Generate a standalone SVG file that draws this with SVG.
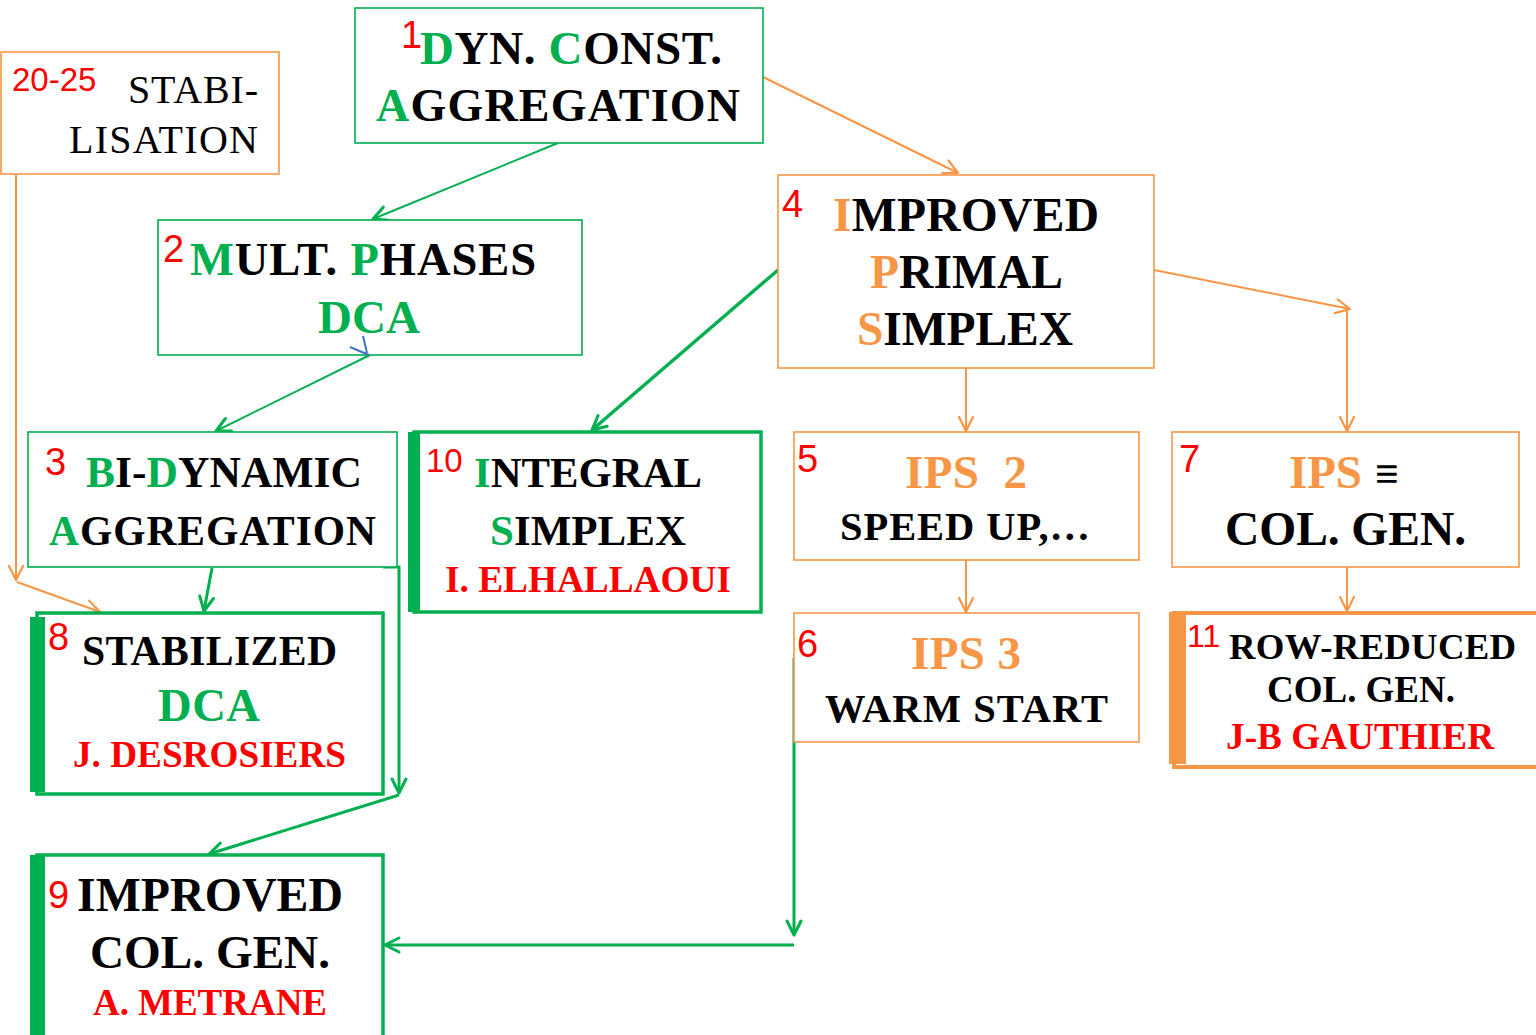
<svg xmlns="http://www.w3.org/2000/svg" width="1536" height="1035" viewBox="0 0 1536 1035">
  <style>
    .t { font-family: "Liberation Serif", "Times New Roman", serif; font-weight: bold; fill: #000; }
    .reg { font-weight: normal; }
    .n { font-family: "Liberation Sans", Arial, sans-serif; fill: #ff0000; }
    .g { fill: #00b050; }
    .o { fill: #f79646; }
    .r { fill: #ff0000; }
    .box-g { fill: #fff; stroke: #00b050; stroke-width: 1.6; }
    .box-gb { fill: #fff; stroke: #00b050; stroke-width: 3.5; }
    .box-o { fill: #fff; stroke: #f79646; stroke-width: 1.6; }
    .box-ob { fill: #fff; stroke: #f79646; stroke-width: 4; }
    .bar-g { fill: #00b050; }
    .bar-o { fill: #f79646; }
    .c-g { fill: none; stroke: #00b050; }
    .c-o { fill: none; stroke: #f79646; stroke-width: 2; }
  </style>
  <defs>
    <marker id="ag" viewBox="-16 -10 20 20" refX="0" refY="0" markerWidth="20" markerHeight="20" markerUnits="userSpaceOnUse" orient="auto" overflow="visible">
      <path d="M-14,-7 L0,0 L-14,7" fill="none" stroke="#00b050" stroke-width="3" stroke-linecap="round" stroke-linejoin="round"/>
    </marker>
    <marker id="ao" viewBox="-16 -10 20 20" refX="0" refY="0" markerWidth="20" markerHeight="20" markerUnits="userSpaceOnUse" orient="auto" overflow="visible">
      <path d="M-14,-7 L0,0 L-14,7" fill="none" stroke="#f79646" stroke-width="2.2" stroke-linecap="round" stroke-linejoin="round"/>
    </marker>
  </defs>

  <rect width="1536" height="1035" fill="#fff"/>

  <!-- connectors -->
  <g id="connectors">
    <!-- green -->
    <path class="c-g" stroke-width="2" d="M558,143 L373,219" marker-end="url(#ag)"/>
    <path class="c-g" stroke-width="2" d="M370,355 L216,431" marker-end="url(#ag)"/>
    <path class="c-g" stroke-width="3.5" d="M778,270 L592,430" marker-end="url(#ag)"/>
    <path class="c-g" stroke-width="3" d="M212,568 L204,611" marker-end="url(#ag)"/>
    <path class="c-g" stroke-width="3" d="M383,567 L399,567 L399,793" marker-end="url(#ag)"/>
    <path class="c-g" stroke-width="3" d="M399,795 L209,854" marker-end="url(#ag)"/>
    <path class="c-g" stroke-width="3" d="M794,658 L794,935" marker-end="url(#ag)"/>
    <path class="c-g" stroke-width="3" d="M794,945 L385,945" marker-end="url(#ag)"/>
    <!-- orange -->
    <path class="c-o" d="M763,77 L958,173" marker-end="url(#ao)"/>
    <path class="c-o" d="M966,368 L966,431" marker-end="url(#ao)"/>
    <path class="c-o" d="M966,560 L966,612" marker-end="url(#ao)"/>
    <path class="c-o" d="M1154,270 L1350,309" marker-end="url(#ao)"/>
    <path class="c-o" d="M1347,310 L1347,431" marker-end="url(#ao)"/>
    <path class="c-o" d="M1347,567 L1347,611" marker-end="url(#ao)"/>
    <path class="c-o" d="M16,174 L16,580" marker-end="url(#ao)"/>
    <path class="c-o" d="M17,582 L100,612" marker-end="url(#ao)"/>
  </g>

  <!-- stabilisation -->
  <g id="node-stab">
    <rect class="box-o" x="1" y="52" width="278" height="122"/>
    <text class="n" x="12" y="91" font-size="33">20-25</text>
    <text class="t reg" x="128" y="103" font-size="40" textLength="130" lengthAdjust="spacing">STABI-</text>
    <text class="t reg" x="69" y="153" font-size="40" textLength="189" lengthAdjust="spacing">LISATION</text>
  </g>

  <!-- 1 -->
  <g id="node-1">
    <rect class="box-g" x="355" y="8" width="408" height="135"/>
    <text class="n" x="401" y="48" font-size="38">1</text>
    <text class="t" x="420" y="64" font-size="47" textLength="302" lengthAdjust="spacing"><tspan class="g">D</tspan>YN. <tspan class="g">C</tspan>ONST.</text>
    <text class="t" x="376" y="121" font-size="46" textLength="364" lengthAdjust="spacing"><tspan class="g">A</tspan>GGREGATION</text>
  </g>

  <!-- 2 -->
  <g id="node-2">
    <rect class="box-g" x="158" y="220" width="424" height="135"/>
    <text class="n" x="163" y="262" font-size="38">2</text>
    <text class="t" x="190" y="275" font-size="46.5" textLength="346" lengthAdjust="spacing"><tspan class="g">M</tspan>ULT. <tspan class="g">P</tspan>HASES</text>
    <text class="t g" x="318" y="333" font-size="47" textLength="102" lengthAdjust="spacing">DCA</text>
    <!-- small blue tick under DCA -->
    <path d="M350,347 L369,355 M363,336 L367,353" fill="none" stroke="#4472c4" stroke-width="2"/>
  </g>

  <!-- 3 -->
  <g id="node-3">
    <rect class="box-g" x="28" y="432" width="369" height="135"/>
    <text class="n" x="45" y="475" font-size="38">3</text>
    <text class="t" x="86" y="487" font-size="43.5" textLength="276" lengthAdjust="spacing"><tspan class="g">B</tspan>I-<tspan class="g">D</tspan>YNAMIC</text>
    <text class="t" x="49" y="545" font-size="41.5" textLength="327" lengthAdjust="spacing"><tspan class="g">A</tspan>GGREGATION</text>
  </g>

  <!-- 4 -->
  <g id="node-4">
    <rect class="box-o" x="778" y="175" width="376" height="193"/>
    <text class="n" x="782" y="217" font-size="38">4</text>
    <text class="t" x="833" y="231" font-size="47.5" textLength="266" lengthAdjust="spacing"><tspan class="o">I</tspan>MPROVED</text>
    <text class="t" x="870" y="288" font-size="47.5" textLength="193" lengthAdjust="spacing"><tspan class="o">P</tspan>RIMAL</text>
    <text class="t" x="857" y="345" font-size="47.5" textLength="216" lengthAdjust="spacing"><tspan class="o">S</tspan>IMPLEX</text>
  </g>

  <!-- 5 -->
  <g id="node-5">
    <rect class="box-o" x="794" y="432" width="345" height="128"/>
    <text class="n" x="797" y="472" font-size="38">5</text>
    <text class="t o" x="905" y="488" font-size="47" xml:space="preserve" textLength="122" lengthAdjust="spacing">IPS  2</text>
    <text class="t" x="840" y="540" font-size="40.5" textLength="250" lengthAdjust="spacing">SPEED UP,…</text>
  </g>

  <!-- 6 -->
  <g id="node-6">
    <rect class="box-o" x="794" y="613" width="345" height="129"/>
    <text class="n" x="797" y="657" font-size="38">6</text>
    <text class="t o" x="911" y="669" font-size="47" textLength="110" lengthAdjust="spacing">IPS 3</text>
    <text class="t" x="825" y="722" font-size="40.5" textLength="283" lengthAdjust="spacing">WARM START</text>
  </g>

  <!-- 7 -->
  <g id="node-7">
    <rect class="box-o" x="1172" y="432" width="347" height="135"/>
    <text class="n" x="1179" y="472" font-size="38">7</text>
    <text class="t o" x="1289" y="488" font-size="47" textLength="73" lengthAdjust="spacing">IPS</text>
    <text class="t" x="1375" y="488" font-size="42">≡</text>
    <text class="t" x="1225" y="545" font-size="47.5" textLength="241" lengthAdjust="spacing">COL. GEN.</text>
  </g>

  <!-- 10 -->
  <g id="node-10">
    <rect class="box-gb" x="414" y="432" width="347" height="180"/>
    <rect class="bar-g" x="408" y="432" width="12" height="180"/>
    <text class="n" x="426" y="472" font-size="33">10</text>
    <text class="t" x="474" y="487" font-size="42.7" textLength="228" lengthAdjust="spacing"><tspan class="g">I</tspan>NTEGRAL</text>
    <text class="t" x="490" y="545" font-size="43" textLength="196" lengthAdjust="spacing"><tspan class="g">S</tspan>IMPLEX</text>
    <text class="t r" x="445" y="592" font-size="37.3" textLength="286" lengthAdjust="spacing">I. ELHALLAOUI</text>
  </g>

  <!-- 8 -->
  <g id="node-8">
    <rect class="box-gb" x="37" y="613" width="346" height="181"/>
    <rect class="bar-g" x="30" y="617" width="15" height="175"/>
    <text class="n" x="48" y="650" font-size="38">8</text>
    <text class="t" x="82" y="665" font-size="41.7" textLength="255" lengthAdjust="spacing">STABILIZED</text>
    <text class="t g" x="158" y="721" font-size="46.6" textLength="102" lengthAdjust="spacing">DCA</text>
    <text class="t r" x="73" y="767" font-size="37.2" textLength="273" lengthAdjust="spacing">J. DESROSIERS</text>
  </g>

  <!-- 9 -->
  <g id="node-9">
    <rect class="box-gb" x="37" y="855" width="346" height="185"/>
    <rect class="bar-g" x="30" y="855" width="15" height="180"/>
    <text class="n" x="48" y="908" font-size="38">9</text>
    <text class="t" x="77" y="911" font-size="47.8" textLength="266" lengthAdjust="spacing">IMPROVED</text>
    <text class="t" x="90" y="968" font-size="47.2" textLength="240" lengthAdjust="spacing">COL. GEN.</text>
    <text class="t r" x="93" y="1015" font-size="37" textLength="234" lengthAdjust="spacing">A. METRANE</text>
  </g>

  <!-- 11 -->
  <g id="node-11">
    <rect class="box-ob" x="1174" y="613" width="370" height="154"/>
    <rect class="bar-o" x="1169" y="612" width="17" height="152"/>
    <text class="n" x="1187" y="647" font-size="32">11</text>
    <text class="t" x="1229" y="659" font-size="36.8" textLength="287" lengthAdjust="spacing">ROW-REDUCED</text>
    <text class="t" x="1267" y="702" font-size="37" textLength="188" lengthAdjust="spacing">COL. GEN.</text>
    <text class="t r" x="1226" y="749" font-size="37.2" textLength="268" lengthAdjust="spacing">J-B GAUTHIER</text>
  </g>
</svg>
